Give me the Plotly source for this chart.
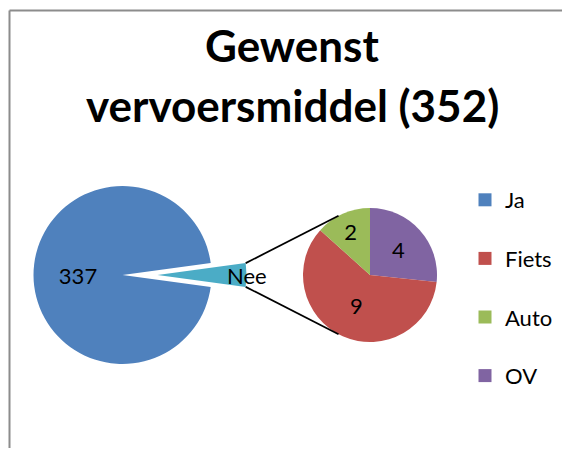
import math

import plotly.graph_objects as go

# main pie: Ja / Nee, the "Nee" slice is broken down in the small pie
MAIN_LABELS = ["Nee", "Ja"]
MAIN_VALUES = [15, 337]
SUB_LABELS = ["OV", "Fiets", "Auto"]
SUB_VALUES = [4, 9, 2]
LEGEND_ORDER = ["Ja", "Fiets", "Auto", "OV"]
TITLE_LINES = ["Gewenst", "vervoersmiddel (352)"]

COLORS = {
    "Ja": "#4F81BD",
    "Nee": "#4BACC6",
    "Fiets": "#C0504D",
    "Auto": "#9BBB59",
    "OV": "#8064A2",
}
CLEAR = "rgba(0,0,0,0)"

# page is 570x456, the browser puts the plot 8px in from the corner
PAGE_W, PAGE_H = 570, 456
OFF = 8
W, H = PAGE_W - 2 * OFF, PAGE_H - 2 * OFF
FONT = "Lato"
LABEL_SIZE = 22

# pie placement in page pixels: centre and radius
MAIN_C, MAIN_R = (122.5, 275), 89
NEE_SHIFT = 35  # how far the "Nee" slice is pulled out
SUB_C, SUB_R = (370, 275), 67
# where the connector lines hit the small pie, degrees away from vertical
CONNECTOR_ANGLE = 28


def px(x, y):
    # page pixel -> paper coords
    return (x - OFF) / W, 1 - (y - OFF) / H


def domain(center, r):
    x0, y0 = px(center[0] - r, center[1] + r)
    x1, y1 = px(center[0] + r, center[1] - r)
    return {"x": [x0, x1], "y": [y0, y1]}


nee_share = MAIN_VALUES[0] / sum(MAIN_VALUES)
rotation = 90 - nee_share * 180
label_font = dict(family=FONT, size=LABEL_SIZE, color="black")

fig = go.Figure()
# Ja part of the main pie (Nee slot left empty)
fig.add_trace(
    go.Pie(
        labels=MAIN_LABELS,
        values=MAIN_VALUES,
        text=["", str(MAIN_VALUES[1])],
        textinfo="text",
        textposition="inside",
        insidetextorientation="horizontal",
        textfont=label_font,
        marker=dict(colors=[CLEAR, COLORS["Ja"]], line=dict(width=0)),
        sort=False,
        direction="clockwise",
        rotation=rotation,
        domain=domain(MAIN_C, MAIN_R),
        showlegend=False,
        hoverinfo="label+value",
    )
)
# exploded Nee slice, same pie shifted to the right
fig.add_trace(
    go.Pie(
        labels=MAIN_LABELS,
        values=MAIN_VALUES,
        textinfo="none",
        marker=dict(colors=[COLORS["Nee"], CLEAR], line=dict(width=0)),
        sort=False,
        direction="clockwise",
        rotation=rotation,
        domain=domain((MAIN_C[0] + NEE_SHIFT, MAIN_C[1]), MAIN_R),
        showlegend=False,
        hoverinfo="label+value",
    )
)
fig.add_trace(
    go.Pie(
        labels=SUB_LABELS,
        values=SUB_VALUES,
        textinfo="value",
        textposition="inside",
        insidetextorientation="horizontal",
        textfont=label_font,
        marker=dict(colors=[COLORS[l] for l in SUB_LABELS], line=dict(width=0)),
        sort=False,
        direction="clockwise",
        rotation=0,
        domain=domain(SUB_C, SUB_R),
        showlegend=False,
        hoverinfo="label+value",
    )
)

# legend entries in Excel order
for name in LEGEND_ORDER:
    fig.add_trace(
        go.Scatter(
            x=[None],
            y=[None],
            mode="markers",
            marker=dict(symbol="square", size=13, color=COLORS[name]),
            name=name,
            legendgroup=name,
        )
    )

# connector lines between the pulled "Nee" slice and the small pie
half = nee_share * math.pi
apex_x = MAIN_C[0] + NEE_SHIFT
a = math.radians(CONNECTOR_ANGLE)
shapes = []
for sign in (-1, 1):
    p0 = px(apex_x + MAIN_R * math.cos(half), MAIN_C[1] + sign * MAIN_R * math.sin(half))
    p1 = px(SUB_C[0] - SUB_R * math.sin(a), SUB_C[1] + sign * SUB_R * math.cos(a))
    shapes.append(
        dict(type="line", xref="paper", yref="paper",
             x0=p0[0], y0=p0[1], x1=p1[0], y1=p1[1],
             line=dict(color="black", width=1.75))
    )

# chart frame: only the left and top edges are inside the picture
f0 = px(9.5, 10.5)
frame_line = dict(color="#8C8C8C", width=2)
shapes.append(dict(type="line", xref="paper", yref="paper",
                   x0=f0[0], y0=-0.1, x1=f0[0], y1=f0[1], line=frame_line))
shapes.append(dict(type="line", xref="paper", yref="paper",
                   x0=f0[0], y0=f0[1], x1=1.1, y1=f0[1], line=frame_line))

nee_pos = px(apex_x + MAIN_R, MAIN_C[1])
title_font = dict(family=FONT, size=44, color="black", weight="bold")
annotations = [
    dict(text=MAIN_LABELS[0], x=nee_pos[0], y=nee_pos[1], xref="paper", yref="paper",
         showarrow=False, font=label_font),
    dict(text=TITLE_LINES[0], x=px(292, 0)[0], y=px(0, 45)[1], xref="paper", yref="paper",
         showarrow=False, yanchor="middle", font=title_font),
    dict(text=TITLE_LINES[1], x=px(292, 0)[0], y=px(0, 105)[1], xref="paper", yref="paper",
         showarrow=False, yanchor="middle", font=title_font),
]

leg = px(465, 179)
fig.update_layout(
    width=W,
    height=H,
    margin=dict(l=0, r=0, t=0, b=0),
    paper_bgcolor="white",
    plot_bgcolor="white",
    xaxis=dict(visible=False),
    yaxis=dict(visible=False),
    shapes=shapes,
    annotations=annotations,
    legend=dict(
        x=leg[0],
        y=leg[1],
        xanchor="left",
        yanchor="top",
        tracegroupgap=27,
        font=dict(family=FONT, size=22, color="black"),
        bgcolor="rgba(0,0,0,0)",
    ),
    font=dict(family=FONT),
)

fig.write_html("out.html")
